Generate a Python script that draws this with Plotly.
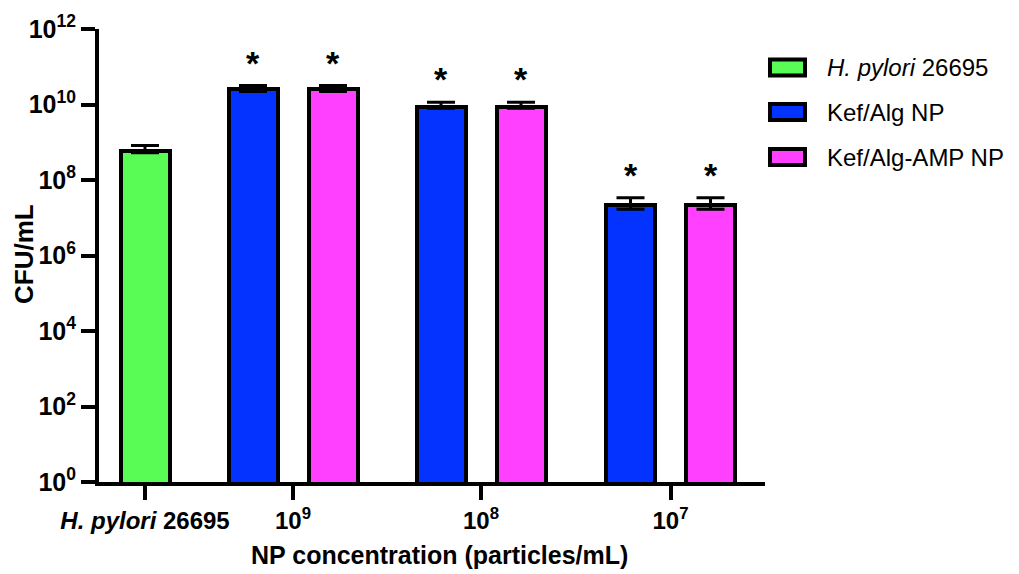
import numpy as np
import plotly.graph_objects as go

# ---- data -------------------------------------------------------------
categories = ["<i>H. pylori</i> 26695", "10<sup>9</sup>", "10<sup>8</sup>", "10<sup>7</sup>"]
series_names = ["<i>H. pylori</i> 26695", "Kef/Alg NP", "Kef/Alg-AMP NP"]

control_cfu = [5.9e8]
control_err_up = [2.3e8]
control_err_down = [0.6e8]

kef_alg_cfu = [2.5e10, 8.7e9, 2.18e7]
kef_alg_err_up = [0.68e10, 2.8e9, 1.2e7]
kef_alg_err_down = [0.3e10, 0.7e9, 0.49e7]

kef_amp_cfu = [2.5e10, 8.7e9, 2.18e7]
kef_amp_err_up = [0.68e10, 2.8e9, 1.2e7]
kef_amp_err_down = [0.3e10, 0.7e9, 0.49e7]

# significance markers (one per NP bar)
kef_alg_sig = ["*", "*", "*"]
kef_amp_sig = ["*", "*", "*"]

y_tick_exponents = [0, 2, 4, 6, 8, 10, 12]

x_title = "NP concentration (particles/mL)"
y_title = "CFU/mL"

# ---- layout / style --------------------------------------------------
colors = ["#59FB55", "#0433FF", "#FF40FF"]
FONT = "Liberation Sans, Arial, Helvetica, sans-serif"

W, H = 1019, 574
M_L, M_R, M_T, M_B = 99, 254, 29, 92
PLOT_W = W - M_L - M_R
PLOT_H = H - M_T - M_B


def px_to_paper_x(px):
    return (px - M_L) / PLOT_W


def px_to_paper_y(py):
    return (H - M_B - py) / PLOT_H


# category centres along the x axis (axis units = px of plot width)
cat_x = [46, 194, 382, 571.5]
pair_offset = 40
bar_width = 49

np_x = cat_x[1:]
alg_x = [c - pair_offset for c in np_x]
amp_x = [c + pair_offset for c in np_x]

bar_line = dict(color="black", width=4)


def err(up, down):
    return dict(type="data", array=up, arrayminus=down, symmetric=False,
                color="black", thickness=3, width=14)


fig = go.Figure()
fig.add_trace(go.Bar(x=[cat_x[0]], y=control_cfu, width=bar_width,
                     name=series_names[0], marker=dict(color=colors[0], line=bar_line),
                     error_y=err(control_err_up, control_err_down)))
fig.add_trace(go.Bar(x=alg_x, y=kef_alg_cfu, width=bar_width,
                     name=series_names[1], marker=dict(color=colors[1], line=bar_line),
                     error_y=err(kef_alg_err_up, kef_alg_err_down)))
fig.add_trace(go.Bar(x=amp_x, y=kef_amp_cfu, width=bar_width,
                     name=series_names[2], marker=dict(color=colors[2], line=bar_line),
                     error_y=err(kef_amp_err_up, kef_amp_err_down)))

annotations = []
# asterisks above the error bars
for xs, vals, ups, marks in [(alg_x, kef_alg_cfu, kef_alg_err_up, kef_alg_sig),
                             (amp_x, kef_amp_cfu, kef_amp_err_up, kef_amp_sig)]:
    for x, v, e, m in zip(xs, vals, ups, marks):
        annotations.append(dict(x=x, y=np.log10(v + e), xref="x", yref="y",
                                text=m, showarrow=False, yanchor="bottom",
                                yshift=2, font=dict(family=FONT, size=34, color="black",
                                                    weight="bold")))

# axis titles
annotations.append(dict(x=px_to_paper_x(440), y=px_to_paper_y(555), xref="paper", yref="paper",
                        text=x_title, showarrow=False, xanchor="center", yanchor="middle",
                        font=dict(family=FONT, size=25, color="black", weight="bold")))
annotations.append(dict(x=px_to_paper_x(24), y=px_to_paper_y(254), xref="paper", yref="paper",
                        text=y_title, showarrow=False, xanchor="center", yanchor="middle",
                        textangle=-90,
                        font=dict(family=FONT, size=26, color="black", weight="bold")))

# custom legend: swatches + labels on the right
legend_x0 = px_to_paper_x(770)
legend_x1 = px_to_paper_x(805)
legend_tx = px_to_paper_x(825)
legend_cy = [67.5, 112, 157]
shapes = []
for name, col, cy in zip(series_names, colors, legend_cy):
    yc = px_to_paper_y(cy)
    half = 8 / PLOT_H
    shapes.append(dict(type="rect", xref="paper", yref="paper",
                       x0=legend_x0, x1=legend_x1, y0=yc - half, y1=yc + half,
                       fillcolor=col, line=dict(color="black", width=4)))
    annotations.append(dict(x=legend_tx, y=yc, xref="paper", yref="paper",
                            text=name, showarrow=False, xanchor="left", yanchor="middle",
                            font=dict(family=FONT, size=24, color="black")))

fig.update_layout(
    width=W, height=H,
    margin=dict(l=M_L, r=M_R, t=M_T, b=M_B),
    paper_bgcolor="white", plot_bgcolor="white",
    showlegend=False,
    bargap=0,
    annotations=annotations,
    shapes=shapes,
    font=dict(family=FONT, color="black"),
)

fig.update_xaxes(
    automargin=False,
    range=[0, PLOT_W],
    tickmode="array", tickvals=cat_x, ticktext=categories,
    ticks="outside", ticklen=14, tickwidth=4, tickcolor="black",
    showline=True, linewidth=4, linecolor="black",
    showgrid=False, zeroline=False,
    tickfont=dict(family=FONT, size=24, color="black", weight="bold"),
)

fig.update_yaxes(
    automargin=False,
    type="log", range=[0, 12],
    tickmode="array",
    tickvals=[10 ** e for e in y_tick_exponents],
    ticktext=[f"10<sup>{e}</sup>" for e in y_tick_exponents],
    ticks="outside", ticklen=14, tickwidth=4, tickcolor="black",
    showline=True, linewidth=4, linecolor="black",
    showgrid=False, zeroline=False,
    tickfont=dict(family=FONT, size=25, color="black", weight="bold"),
)

fig.write_html("out.html")
